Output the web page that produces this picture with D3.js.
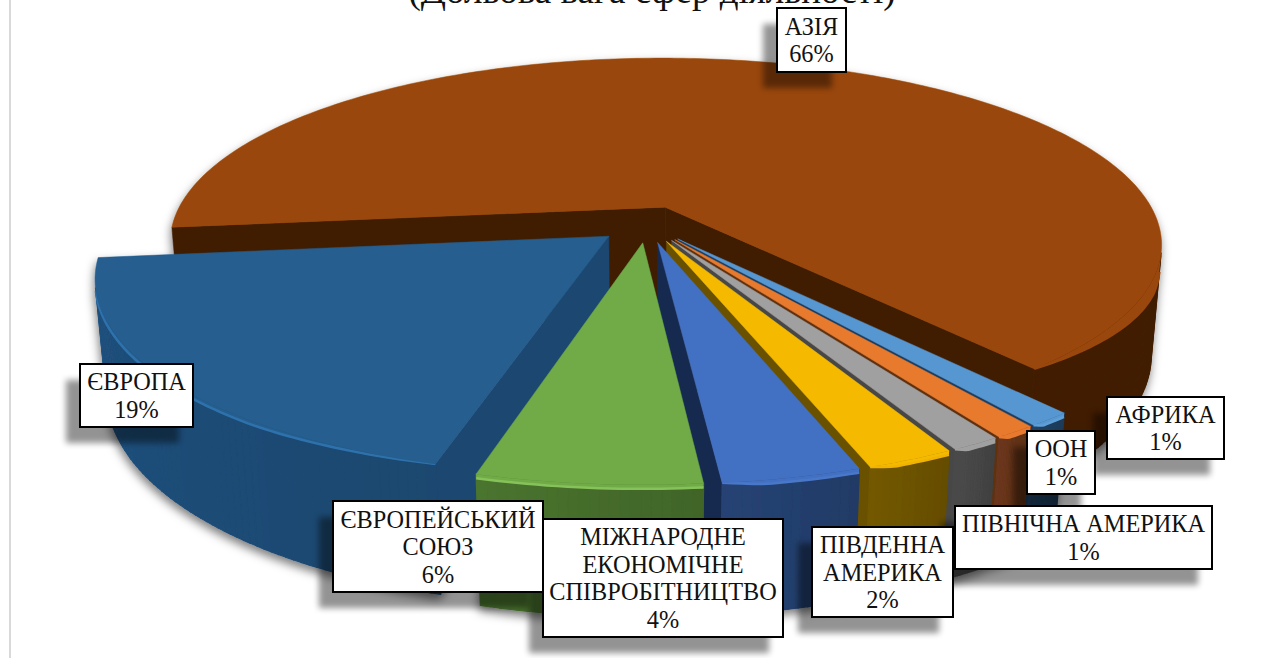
<!DOCTYPE html>
<html>
<head>
<meta charset="utf-8">
<script src="https://cdn.jsdelivr.net/npm/d3@7"></script>
<style>
  html, body { margin: 0; padding: 0; background: #fff; overflow: hidden; }
  svg { display: block; }
  text { font-family: "Liberation Serif", serif; fill: #111; }
</style>
</head>
<body>
<svg id="chart" width="1284" height="658"></svg>
<script>
// clockwise order, the way the chart was built
const categories = ['АФРИКА', 'ООН', 'ПІВНІЧНА АМЕРИКА', 'ПІВДЕННА АМЕРИКА', 'МІЖНАРОДНЕ ЕКОНОМІЧНЕ СПІВРОБІТНИЦТВО', 'ЄВРОПЕЙСЬКИЙ СОЮЗ', 'ЄВРОПА', 'АЗІЯ'];
// the labels round these to whole percents
const shares = [1.17, 1.1, 1.3, 2.3, 3.6, 5.8, 19, 65.73];

const topColors = ['#5797d2', '#e87a2f', '#a0a0a0', '#f5ba00', '#4370c2', '#6fab46', '#255e8f', '#9a4709'];
const wallColors = ['#1f4060', '#66341a', '#474747', '#6e5400', '#24406f', '#466e2c', '#1f4e79', '#3f1d03'];
const innerColors = ['#1d3d5e', '#5f3010', '#474747', '#6b5100', '#172b50', '#3e6527', '#1c466f', '#3f1d03'];
const rimColors = ['#5f9fd8', '#e87a2f', '#a0a0a0', '#f0b400', '#4a78ca', '#86c25a', '#2f72ad', '#9a4709'];
// how far the top colour rolls over the rim, only the big slice shows it much
const bevels = [0.03, 0.03, 0.03, 0.03, 0.03, 0.03, 0.03, 0.17];

// label lines and where the boxes were dragged to: x0, y0, x1, y1
const labelLines = [['АФРИКА'], ['ООН'], ['ПІВНІЧНА АМЕРИКА'], ['ПІВДЕННА', 'АМЕРИКА'], ['МІЖНАРОДНЕ', 'ЕКОНОМІЧНЕ', 'СПІВРОБІТНИЦТВО'], ['ЄВРОПЕЙСЬКИЙ', 'СОЮЗ'], ['ЄВРОПА'], ['АЗІЯ']];
const labelBoxes = [
  [1107, 397, 1224, 459], [1027, 431, 1095, 494], [955, 506, 1212, 569], [812, 527, 953, 617],
  [543, 519, 783, 637], [333, 501, 543, 592], [80, 364, 193, 427], [777, 8, 846, 72]
];

const svg = d3.select('#chart');
const defs = svg.append('defs');

const pieShadow = defs.append('filter').attr('id', 'pieShadow')
  .attr('x', '-10%').attr('y', '-10%').attr('width', '120%').attr('height', '125%');
pieShadow.append('feDropShadow').attr('dx', -1).attr('dy', 5).attr('stdDeviation', 5)
  .attr('flood-color', '#000').attr('flood-opacity', 0.5);

const boxShadow = defs.append('filter').attr('id', 'boxShadow')
  .attr('x', '-30%').attr('y', '-30%').attr('width', '160%').attr('height', '170%');
boxShadow.append('feGaussianBlur').attr('stdDeviation', 3);

// page frame and the title that is cut off at the top
svg.append('line').attr('x1', 10).attr('x2', 10).attr('y1', 0).attr('y2', 658)
  .attr('stroke', '#d9d9d9').attr('stroke-width', 2);
svg.append('text').attr('x', 652).attr('y', 3).attr('text-anchor', 'middle')
  .style('font-size', '37px').text('(Дольова вага сфер діяльності)');

// perspective of the 3d pie
const cx = 647, cy = 224;
const scaleX = 495, scaleY = 185, depthY = 111;
const persp = 0.2, vanish = 0.02, explode = 0.1;

function project(u, v, h) {
  const d = 1 - persp * v + vanish * h;
  return [cx + scaleX * u / d, cy + (scaleY * v + depthY * h) / d];
}

const startDeg = 140.3;
const pie = d3.pie().sort(null)
  .startAngle(startDeg * Math.PI / 180)
  .endAngle((startDeg + 360) * Math.PI / 180);

const slices = pie(shares).map((d, i) => {
  const mid = (d.startAngle + d.endAngle) / 2;
  const ou = explode * Math.sin(mid);
  const ov = -explode * Math.cos(mid);
  return { i, start: d.startAngle, end: d.endAngle, ou, ov };
});

const line = d3.line();

// back to front
const drawOrder = slices.slice().sort((a, b) => a.ov - b.ov);
const g = svg.append('g').attr('filter', 'url(#pieShadow)');

drawOrder.forEach((s) => {
  const slice = g.append('g').attr('class', 'slice');
  const n = Math.max(12, Math.ceil((s.end - s.start) * 60));
  const angles = d3.range(n + 1).map((k) => s.start + (s.end - s.start) * k / n);
  const rim = (a, h) => project(s.ou + Math.sin(a), s.ov - Math.cos(a), h);
  const apex = (h) => project(s.ou, s.ov, h);

  // flat sides next to the gaps, only the ones that face the viewer
  const shown = {};
  [[s.start, 1, 'start'], [s.end, -1, 'end']].forEach(([a, sign, key]) => {
    const quad = [apex(0), rim(a, 0), rim(a, 1), apex(1)];
    shown[key] = d3.polygonArea(quad) * sign > 0;
    if (shown[key]) {
      slice.append('path').attr('d', line(quad) + 'Z')
        .attr('fill', innerColors[s.i]).attr('stroke', innerColors[s.i]).attr('stroke-width', 0.5);
    }
  });

  // the bevel runs out where a flat side meets the rim
  const taper = Math.min(30 * Math.PI / 180, (s.end - s.start) * 0.3);
  const bevelAt = (a) => {
    let k = 1;
    if (shown.start) k = Math.min(k, (a - s.start) / taper);
    if (shown.end) k = Math.min(k, (s.end - a) / taper);
    return bevels[s.i] * Math.max(0, k);
  };

  // outer wall, a bit darker towards the right of each slice
  const wall = d3.scaleLinear().domain([s.start, s.end])
    .range([d3.rgb(wallColors[s.i]).darker(0.25), d3.rgb(wallColors[s.i]).brighter(0.15)])
    .interpolate(d3.interpolateRgb);
  const visible = angles.slice(0, -1).map((a, k) => [a, angles[k + 1]])
    .filter(([a, b]) => d3.polygonArea([rim(a, 0), rim(b, 0), rim(b, 1), rim(a, 1)]) > 0);

  visible.forEach(([a, b]) => {
    const c = wall((a + b) / 2);
    slice.append('path').attr('d', line([rim(a, 0), rim(b, 0), rim(b, 1), rim(a, 1)]) + 'Z')
      .attr('fill', c).attr('stroke', c).attr('stroke-width', 1.2);
  });
  if (visible.length) {
    const rimAngles = visible.map(([a]) => a).concat([visible[visible.length - 1][1]]);
    const edge = rimAngles.map((a) => rim(a, bevelAt(a)));
    const band = rimAngles.map((a) => rim(a, 0)).concat(edge.slice().reverse());
    slice.append('path').attr('d', line(band) + 'Z').attr('fill', topColors[s.i]);
    slice.append('path').attr('d', line(edge))
      .attr('fill', 'none').attr('stroke', rimColors[s.i]).attr('stroke-width', 2.5);
  }

  // top face
  const top = [apex(0)].concat(angles.map((a) => rim(a, 0)));
  slice.append('path').attr('d', line(top) + 'Z')
    .attr('fill', topColors[s.i]).attr('stroke', topColors[s.i]).attr('stroke-width', 0.5);
});

// data labels
const labels = svg.append('g').selectAll('g').data(categories).enter().append('g');

labels.append('rect')
  .attr('x', (d, i) => labelBoxes[i][0] - 14)
  .attr('y', (d, i) => labelBoxes[i][1] + 16)
  .attr('width', (d, i) => labelBoxes[i][2] - labelBoxes[i][0])
  .attr('height', (d, i) => labelBoxes[i][3] - labelBoxes[i][1])
  .attr('fill', '#000').attr('opacity', 0.42).attr('filter', 'url(#boxShadow)');

labels.append('rect')
  .attr('x', (d, i) => labelBoxes[i][0])
  .attr('y', (d, i) => labelBoxes[i][1])
  .attr('width', (d, i) => labelBoxes[i][2] - labelBoxes[i][0])
  .attr('height', (d, i) => labelBoxes[i][3] - labelBoxes[i][1])
  .attr('fill', '#fff').attr('stroke', '#000').attr('stroke-width', 2);

labels.each(function (d, i) {
  const box = labelBoxes[i];
  const rows = labelLines[i].concat([Math.round(shares[i]) + '%']);
  const midX = (box[0] + box[2]) / 2;
  const lineH = 27.5;
  const first = (box[1] + box[3]) / 2 - lineH * (rows.length - 1) / 2;
  d3.select(this).selectAll('text').data(rows).enter().append('text')
    .attr('x', midX)
    .attr('y', (r, k) => first + k * lineH)
    .attr('dy', '0.35em')
    .attr('text-anchor', 'middle')
    .style('font-size', '24.3px')
    .text((r) => r);
});
</script>
</body>
</html>
